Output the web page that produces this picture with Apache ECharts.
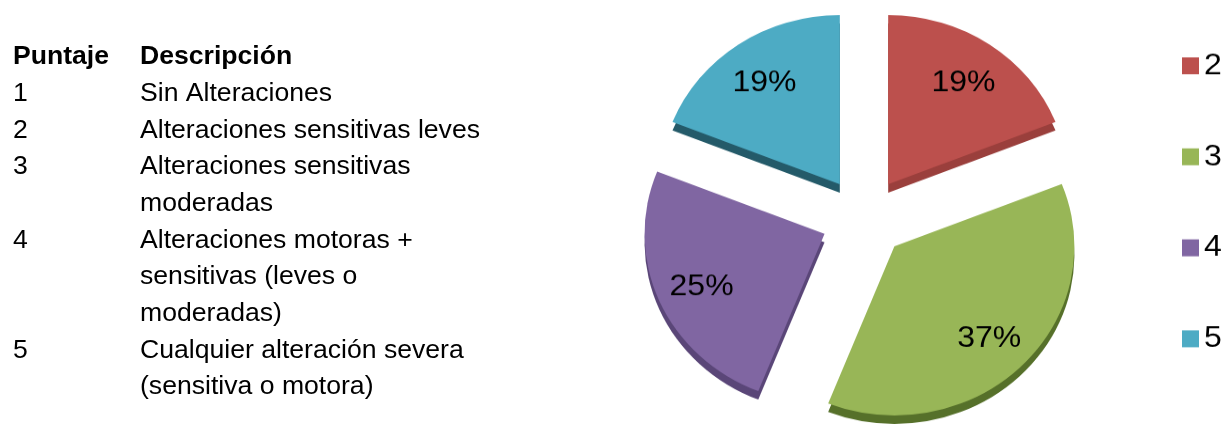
<!DOCTYPE html>
<html>
<head>
<meta charset="utf-8">
<script src="https://cdn.jsdelivr.net/npm/echarts@6/dist/echarts.min.js"></script>
<style>
html,body{margin:0;padding:0;background:#fff;overflow:hidden;}
#wrap{position:relative;width:1226px;height:425px;overflow:hidden;}
#text{position:absolute;left:0;top:0;width:1226px;height:425px;}
#pie{position:absolute;left:0;top:0;width:1226px;height:452px;transform:scaleY(0.94);transform-origin:0 0;}
</style>
</head>
<body>
<div id="wrap"><div id="text"></div><div id="pie"></div></div>
<script>
const headers = ['Puntaje', 'Descripción'];
const scores = ['1', '2', '3', '4', '5'];
const descriptions = [
  'Sin Alteraciones',
  'Alteraciones sensitivas leves',
  'Alteraciones sensitivas\nmoderadas',
  'Alteraciones motoras +\nsensitivas (leves o\nmoderadas)',
  'Cualquier alteración severa\n(sensitiva o motora)'
];
const pieNames = ['2', '3', '4', '5'];
const pieValues = [19, 37, 25, 19];
const pieColors = ['#BC504D', '#98B657', '#8066A2', '#4DABC4'];
const sideColors = ['#9A3F3C', '#56702A', '#5A4678', '#245A69'];

const FONT = '"Liberation Sans", Arial, sans-serif';
const FS = 26.6;
const LH = 36.7;
const firstRowCenter = 93.5;
const headerCenter = 56.5;
const colScore = 13;
const colDesc = 140;

const graphics = [];
graphics.push({type: 'text', x: colScore, y: headerCenter, style: {text: headers[0], font: 'bold ' + FS + 'px ' + FONT, fill: '#000', verticalAlign: 'middle'}});
graphics.push({type: 'text', x: colDesc, y: headerCenter, style: {text: headers[1], font: 'bold ' + FS + 'px ' + FONT, fill: '#000', verticalAlign: 'middle'}});
let lineIdx = 0;
scores.forEach((s, i) => {
  const top = firstRowCenter + lineIdx * LH - LH / 2;
  graphics.push({type: 'text', x: colScore, y: top, style: {text: s, font: FS + 'px ' + FONT, fill: '#000', lineHeight: LH, verticalAlign: 'top'}});
  graphics.push({type: 'text', x: colDesc, y: top, style: {text: descriptions[i], font: FS + 'px ' + FONT, fill: '#000', lineHeight: LH, verticalAlign: 'top'}});
  lineIdx += descriptions[i].split('\n').length;
});

const textChart = echarts.init(document.getElementById('text'));
textChart.setOption({animation: false, backgroundColor: '#fff', graphic: graphics});

// pie drawn in a vertically squashed layer to mimic the tilted 3D view
const center = [864, 231.6];
const R = 180;
const explode = 43;
const depth = 9;

function items(colors) {
  return pieNames.map((n, i) => ({name: n, value: pieValues[i], selected: true, itemStyle: {color: colors ? colors[i] : 'rgba(0,0,0,0)'}}));
}

const chart = echarts.init(document.getElementById('pie'));
chart.setOption({
  animation: false,
  backgroundColor: 'transparent',
  legend: {
    orient: 'vertical',
    left: 1182,
    top: 54,
    padding: 0,
    itemWidth: 17,
    itemHeight: 18,
    itemGap: 64.8,
    icon: 'rect',
    data: pieNames.map((n, i) => ({name: n, itemStyle: {color: pieColors[i]}})),
    textStyle: {fontSize: 32, lineHeight: 32, color: '#000', fontFamily: FONT}
  },
  series: [
    {
      type: 'pie', name: 'main', z: 3,
      center: center, radius: R,
      selectedMode: 'multiple', selectedOffset: explode,
      startAngle: 90, clockwise: true,
      avoidLabelOverlap: false,
      label: {show: false}, labelLine: {show: false},
      emphasis: {scale: false},
      data: items(pieColors)
    },
    {
      type: 'pie', name: 'side', z: 2, silent: true,
      center: [center[0], center[1] + depth], radius: R,
      selectedMode: 'multiple', selectedOffset: explode,
      startAngle: 90, clockwise: true,
      label: {show: false}, labelLine: {show: false},
      emphasis: {disabled: true},
      data: items(sideColors)
    },
    {
      type: 'pie', name: 'labels', z: 4, silent: true,
      center: [center[0], center[1] + 3], radius: 262,
      selectedMode: 'multiple', selectedOffset: explode,
      startAngle: 90, clockwise: true,
      avoidLabelOverlap: false,
      label: {show: true, position: 'inside', formatter: '{d}%', fontSize: 32, color: '#000', fontFamily: FONT},
      labelLine: {show: false},
      emphasis: {disabled: true},
      data: items(null)
    }
  ]
});
</script>
</body>
</html>
